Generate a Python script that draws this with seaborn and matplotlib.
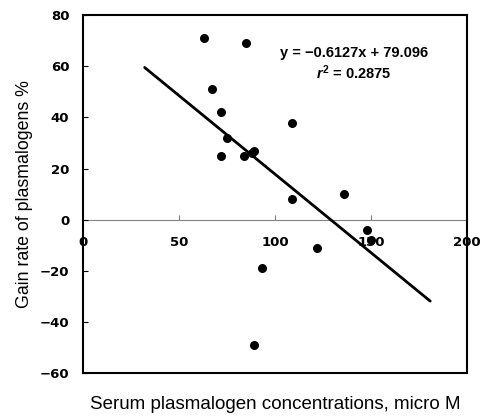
import matplotlib
matplotlib.use("Agg")
import matplotlib.pyplot as plt
import seaborn as sns
import numpy as np
import pandas as pd

# data
conc = [63, 85, 67, 72, 75, 72, 84, 89, 88, 109, 109, 136, 148, 150, 122, 93, 89]
gain = [71, 69, 51, 42, 32, 25, 25, 27, 26, 38, 8, 10, -4, -8, -11, -19, -49]
slope, intercept = -0.6127, 79.096
fit_range = [32, 181]
x_ticks = [0, 50, 100, 150, 200]
y_ticks = [-60, -40, -20, 0, 20, 40, 60, 80]

sns.set_style("white")
plt.rcParams["font.family"] = ["Liberation Sans", "DejaVu Sans"]
plt.rcParams["mathtext.fontset"] = "custom"
plt.rcParams["mathtext.rm"] = "Liberation Sans:bold"
plt.rcParams["mathtext.it"] = "Liberation Sans:italic:bold"
for key in ["text.color", "axes.labelcolor", "xtick.color", "ytick.color"]:
    plt.rcParams[key] = "black"

df = pd.DataFrame({"conc": conc, "gain": gain})
fit = pd.DataFrame({"x": fit_range})
fit["y"] = slope * fit["x"] + intercept

fig = plt.figure(figsize=(4.85, 4.16), dpi=100)
ax = fig.add_axes([0.1718, 0.1026, 0.7904, 0.8613])

sns.lineplot(data=fit, x="x", y="y", color="black", linewidth=2, ax=ax)
sns.scatterplot(data=df, x="conc", y="gain", color="black", s=42,
                edgecolor="black", linewidth=0, ax=ax, zorder=3)

ax.set_xlim(0, 200)
ax.set_ylim(-60, 80)
for sp in ax.spines.values():
    sp.set_visible(True)
    sp.set_color("black")
    sp.set_linewidth(1.5)

tick_font = {"family": "DejaVu Sans", "weight": "bold", "size": 9.5}
ax.set_yticks(y_ticks)
ax.set_yticklabels([str(v).replace("-", "\u2212") for v in y_ticks], fontdict=tick_font)
ax.tick_params(axis="y", direction="in", length=3.5, width=0.8, pad=10, left=True)
ax.set_xticks([])
ax.set_xlabel("Serum plasmalogen concentrations, micro M", fontsize=13.5)
ax.xaxis.set_label_coords(0.5, -0.062)
ax.set_ylabel("Gain rate of plasmalogens %", fontsize=12.8)
ax.yaxis.set_label_coords(-0.13, 0.5)

# x axis drawn along y = 0
sec = ax.secondary_xaxis(60 / 140)
sec.spines["bottom"].set_color("#808080")
sec.spines["bottom"].set_linewidth(0.8)
sec.set_xticks(x_ticks)
sec.set_xticklabels([str(v) for v in x_ticks], fontdict=tick_font)
sec.tick_params(axis="x", direction="in", length=3.5, width=0.8, pad=12,
                color="#808080", bottom=True)

ax.text(0.705, 0.894, "y = \u22120.6127x + 79.096", transform=ax.transAxes,
        ha="center", va="center", fontsize=10.5, fontweight="bold")
ax.text(0.705, 0.838, "$r^2$ = 0.2875", transform=ax.transAxes,
        ha="center", va="center", fontsize=10.5, fontweight="bold")

fig.savefig("out.png", dpi=100)
